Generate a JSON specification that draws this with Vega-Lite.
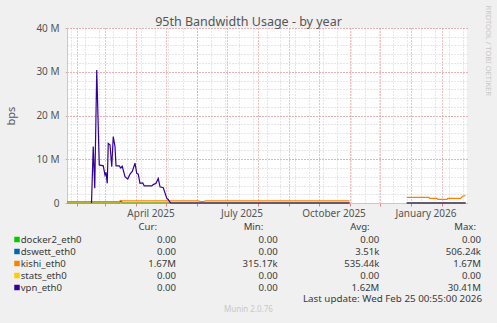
{
  "$schema": "https://vega.github.io/schema/vega-lite/v6.json",
  "width": 400,
  "height": 175,
  "autosize": {"type": "none"},
  "padding": {"left": 67, "top": 28, "right": 30, "bottom": 120},
  "background": "#f0f0f0",
  "config": {
    "font": "Noto Sans",
    "view": {"fill": "white", "stroke": null},
    "axis": {"labelFont": "Noto Sans", "titleFont": "Noto Sans", "labelColor": "#555555", "titleColor": "#555555", "labelFontSize": 10, "titleFontWeight": "normal"}
  },
  "title": {"text": "95th Bandwidth Usage - by year", "fontSize": 12.5, "fontWeight": "normal", "color": "#555555", "anchor": "middle", "dx": -18.5, "dy": 26, "offset": 3},
  "datasets": {
    "bw": [
      {"t": "2025-01-22T12:00:00", "series": "docker2_eth0", "v": 0},
      {"t": "2025-11-01T00:00:00", "series": "docker2_eth0", "v": 0},
      {"t": "2025-11-15T00:00:00", "series": "docker2_eth0", "v": null},
      {"t": "2025-12-28T06:00:00", "series": "docker2_eth0", "v": 0},
      {"t": "2026-02-25T00:00:00", "series": "docker2_eth0", "v": 0},

      {"t": "2025-01-22T12:00:00", "series": "dswett_eth0", "v": 0},
      {"t": "2025-03-16T00:00:00", "series": "dswett_eth0", "v": 0},
      {"t": "2025-03-17T12:00:00", "series": "dswett_eth0", "v": 506240},
      {"t": "2025-03-19T00:00:00", "series": "dswett_eth0", "v": 0},
      {"t": "2025-11-01T00:00:00", "series": "dswett_eth0", "v": 0},
      {"t": "2025-11-15T00:00:00", "series": "dswett_eth0", "v": null},
      {"t": "2025-12-28T06:00:00", "series": "dswett_eth0", "v": 0},
      {"t": "2026-02-25T00:00:00", "series": "dswett_eth0", "v": 0},

      {"t": "2025-01-22T12:00:00", "series": "kishi_eth0", "v": 320000},
      {"t": "2025-03-15T12:00:00", "series": "kishi_eth0", "v": 320000},
      {"t": "2025-03-17T00:00:00", "series": "kishi_eth0", "v": 600000},
      {"t": "2025-03-18T12:00:00", "series": "kishi_eth0", "v": 500000},
      {"t": "2025-06-03T00:00:00", "series": "kishi_eth0", "v": 500000},
      {"t": "2025-06-04T12:00:00", "series": "kishi_eth0", "v": 320000},
      {"t": "2025-06-08T12:00:00", "series": "kishi_eth0", "v": 320000},
      {"t": "2025-06-10T00:00:00", "series": "kishi_eth0", "v": 500000},
      {"t": "2025-11-01T00:00:00", "series": "kishi_eth0", "v": 500000},
      {"t": "2025-11-15T00:00:00", "series": "kishi_eth0", "v": null},
      {"t": "2025-12-28T06:00:00", "series": "kishi_eth0", "v": 1300000},
      {"t": "2026-01-19T12:00:00", "series": "kishi_eth0", "v": 1300000},
      {"t": "2026-01-20T06:00:00", "series": "kishi_eth0", "v": 1070000},
      {"t": "2026-01-27T12:00:00", "series": "kishi_eth0", "v": 1070000},
      {"t": "2026-01-28T06:00:00", "series": "kishi_eth0", "v": 850000},
      {"t": "2026-02-06T12:00:00", "series": "kishi_eth0", "v": 850000},
      {"t": "2026-02-07T06:00:00", "series": "kishi_eth0", "v": 1070000},
      {"t": "2026-02-20T06:00:00", "series": "kishi_eth0", "v": 1070000},
      {"t": "2026-02-21T12:00:00", "series": "kishi_eth0", "v": 1440000},
      {"t": "2026-02-22T12:00:00", "series": "kishi_eth0", "v": 1600000},
      {"t": "2026-02-25T00:00:00", "series": "kishi_eth0", "v": 1670000},

      {"t": "2025-01-22T12:00:00", "series": "stats_eth0", "v": 0},
      {"t": "2025-11-01T00:00:00", "series": "stats_eth0", "v": 0},
      {"t": "2025-11-15T00:00:00", "series": "stats_eth0", "v": null},
      {"t": "2025-12-28T06:00:00", "series": "stats_eth0", "v": 0},
      {"t": "2026-02-25T00:00:00", "series": "stats_eth0", "v": 0},

      {"t": "2025-02-16T00:00:00", "series": "vpn_eth0", "v": 0},
      {"t": "2025-02-17T18:00:00", "series": "vpn_eth0", "v": 12900000},
      {"t": "2025-02-19T06:00:00", "series": "vpn_eth0", "v": 3400000},
      {"t": "2025-02-21T06:00:00", "series": "vpn_eth0", "v": 30410000},
      {"t": "2025-02-23T18:00:00", "series": "vpn_eth0", "v": 8700000},
      {"t": "2025-02-27T18:00:00", "series": "vpn_eth0", "v": 8500000},
      {"t": "2025-03-01T12:00:00", "series": "vpn_eth0", "v": 6400000},
      {"t": "2025-03-02T12:00:00", "series": "vpn_eth0", "v": 7000000},
      {"t": "2025-03-03T18:00:00", "series": "vpn_eth0", "v": 4500000},
      {"t": "2025-03-04T18:00:00", "series": "vpn_eth0", "v": 13600000},
      {"t": "2025-03-06T12:00:00", "series": "vpn_eth0", "v": 13300000},
      {"t": "2025-03-08T06:00:00", "series": "vpn_eth0", "v": 8300000},
      {"t": "2025-03-09T18:00:00", "series": "vpn_eth0", "v": 15200000},
      {"t": "2025-03-11T12:00:00", "series": "vpn_eth0", "v": 12900000},
      {"t": "2025-03-12T12:00:00", "series": "vpn_eth0", "v": 8500000},
      {"t": "2025-03-15T18:00:00", "series": "vpn_eth0", "v": 8500000},
      {"t": "2025-03-17T06:00:00", "series": "vpn_eth0", "v": 8000000},
      {"t": "2025-03-18T18:00:00", "series": "vpn_eth0", "v": 8400000},
      {"t": "2025-03-21T12:00:00", "series": "vpn_eth0", "v": 6000000},
      {"t": "2025-03-24T06:00:00", "series": "vpn_eth0", "v": 5500000},
      {"t": "2025-03-26T12:00:00", "series": "vpn_eth0", "v": 6600000},
      {"t": "2025-03-28T18:00:00", "series": "vpn_eth0", "v": 7200000},
      {"t": "2025-03-31T12:00:00", "series": "vpn_eth0", "v": 9100000},
      {"t": "2025-04-02T06:00:00", "series": "vpn_eth0", "v": 6800000},
      {"t": "2025-04-03T18:00:00", "series": "vpn_eth0", "v": 6600000},
      {"t": "2025-04-05T12:00:00", "series": "vpn_eth0", "v": 4500000},
      {"t": "2025-04-08T06:00:00", "series": "vpn_eth0", "v": 4600000},
      {"t": "2025-04-09T18:00:00", "series": "vpn_eth0", "v": 3900000},
      {"t": "2025-04-17T06:00:00", "series": "vpn_eth0", "v": 3900000},
      {"t": "2025-04-18T18:00:00", "series": "vpn_eth0", "v": 4200000},
      {"t": "2025-04-21T12:00:00", "series": "vpn_eth0", "v": 4500000},
      {"t": "2025-04-23T18:00:00", "series": "vpn_eth0", "v": 5600000},
      {"t": "2025-04-25T12:00:00", "series": "vpn_eth0", "v": 3700000},
      {"t": "2025-04-28T18:00:00", "series": "vpn_eth0", "v": 3500000},
      {"t": "2025-05-02T06:00:00", "series": "vpn_eth0", "v": 1100000},
      {"t": "2025-05-03T18:00:00", "series": "vpn_eth0", "v": 800000},
      {"t": "2025-05-05T12:00:00", "series": "vpn_eth0", "v": 150000},
      {"t": "2025-05-06T12:00:00", "series": "vpn_eth0", "v": 0},
      {"t": "2025-11-01T00:00:00", "series": "vpn_eth0", "v": 0},
      {"t": "2025-11-15T00:00:00", "series": "vpn_eth0", "v": null},
      {"t": "2025-12-28T06:00:00", "series": "vpn_eth0", "v": 0},
      {"t": "2026-02-25T00:00:00", "series": "vpn_eth0", "v": 0}
    ],
    "names": [
      {"series": "docker2_eth0"},
      {"series": "dswett_eth0"},
      {"series": "kishi_eth0"},
      {"series": "stats_eth0"},
      {"series": "vpn_eth0"}
    ],
    "stats": [
      {"series": "docker2_eth0", "stat": "Cur", "label": "0.00"},
      {"series": "docker2_eth0", "stat": "Min", "label": "0.00"},
      {"series": "docker2_eth0", "stat": "Avg", "label": "0.00"},
      {"series": "docker2_eth0", "stat": "Max", "label": "0.00"},
      {"series": "dswett_eth0", "stat": "Cur", "label": "0.00"},
      {"series": "dswett_eth0", "stat": "Min", "label": "0.00"},
      {"series": "dswett_eth0", "stat": "Avg", "label": "3.51k"},
      {"series": "dswett_eth0", "stat": "Max", "label": "506.24k"},
      {"series": "kishi_eth0", "stat": "Cur", "label": "1.67M"},
      {"series": "kishi_eth0", "stat": "Min", "label": "315.17k"},
      {"series": "kishi_eth0", "stat": "Avg", "label": "535.44k"},
      {"series": "kishi_eth0", "stat": "Max", "label": "1.67M"},
      {"series": "stats_eth0", "stat": "Cur", "label": "0.00"},
      {"series": "stats_eth0", "stat": "Min", "label": "0.00"},
      {"series": "stats_eth0", "stat": "Avg", "label": "0.00"},
      {"series": "stats_eth0", "stat": "Max", "label": "0.00"},
      {"series": "vpn_eth0", "stat": "Cur", "label": "0.00"},
      {"series": "vpn_eth0", "stat": "Min", "label": "0.00"},
      {"series": "vpn_eth0", "stat": "Avg", "label": "1.62M"},
      {"series": "vpn_eth0", "stat": "Max", "label": "30.41M"}
    ],
    "headers": [
      {"stat": "Cur", "label": "Cur:"},
      {"stat": "Min", "label": "Min:"},
      {"stat": "Avg", "label": "Avg:"},
      {"stat": "Max", "label": "Max:"}
    ]
  },
  "layer": [
    {
      "data": {"name": "bw"},
      "mark": {"type": "line", "opacity": 0},
      "encoding": {
        "x": {
          "field": "t", "type": "temporal",
          "scale": {"domain": [{"year": 2025, "month": 1, "date": 22, "hours": 12}, {"year": 2026, "month": 2, "date": 26, "hours": 12}]},
          "axis": {"orient": "top", "tickCount": {"interval": "week", "step": 2}, "grid": true, "gridColor": "#cfcfcf", "gridDash": [1, 2], "labels": false, "ticks": false, "domain": false, "title": null}
        },
        "y": {
          "field": "v", "type": "quantitative",
          "scale": {"domain": [0, 40000000], "nice": false},
          "axis": {
            "orient": "right",
            "values": [0, 2000000, 4000000, 6000000, 8000000, 10000000, 12000000, 14000000, 16000000, 18000000, 20000000, 22000000, 24000000, 26000000, 28000000, 30000000, 32000000, 34000000, 36000000, 38000000, 40000000],
            "grid": true, "gridColor": "#cfcfcf", "gridDash": [1, 2], "labels": false, "ticks": false, "domain": false,
            "title": "RRDTOOL / TOBI OETIKER", "titleAngle": 90, "titleX": 20, "titleY": -23, "titleAlign": "left", "titleBaseline": "middle", "titleColor": "#c8c8c8", "titleFontSize": 7.5
          }
        }
      }
    },
    {
      "data": {"name": "bw"},
      "mark": {"type": "line", "strokeWidth": 1.2},
      "encoding": {
        "x": {
          "field": "t", "type": "temporal",
          "scale": {"domain": [{"year": 2025, "month": 1, "date": 22, "hours": 12}, {"year": 2026, "month": 2, "date": 26, "hours": 12}]},
          "axis": {
            "orient": "bottom", "tickCount": {"interval": "month", "step": 1},
            "labelExpr": "month(datum.value) % 3 == 0 ? timeFormat(datum.value, '%B %Y') : ''",
            "labelOffset": 15, "labelFlush": false, "labelOverlap": false, "labelPadding": 2,
            "grid": true, "gridColor": "#e48080", "gridDash": [1, 2],
            "ticks": true, "tickColor": "#e48080", "tickSize": 3,
            "domainColor": "#c4c4f0", "title": null
          }
        },
        "y": {
          "field": "v", "type": "quantitative",
          "scale": {"domain": [0, 40000000], "nice": false},
          "axis": {
            "values": [0, 10000000, 20000000, 30000000, 40000000],
            "labelExpr": "datum.value == 0 ? '0\u00a0\u00a0' : (datum.value / 1000000) + ' M'",
            "grid": true, "gridColor": "#e48080", "gridDash": [1, 2],
            "ticks": true, "tickColor": "#bbbbbb", "tickSize": 2, "labelPadding": 6,
            "domainColor": "#c4c4f0",
            "title": "bps", "titleFontSize": 11, "titleX": -56, "titleBaseline": "middle"
          }
        },
        "color": {
          "field": "series", "type": "nominal",
          "scale": {"domain": ["docker2_eth0", "dswett_eth0", "kishi_eth0", "stats_eth0", "vpn_eth0"], "range": ["#00cc00", "#0066b3", "#ff8000", "#ffcc00", "#330099"]},
          "legend": null
        }
      }
    },
    {
      "data": {"name": "names"},
      "mark": {"type": "square", "size": 30, "filled": true, "opacity": 1},
      "encoding": {
        "x": {"datum": "swatch", "type": "nominal", "scale": {"type": "point", "domain": ["swatch"], "range": [-50, -50]}, "axis": null},
        "y": {"field": "series", "type": "nominal", "scale": {"type": "point", "domain": ["docker2_eth0", "dswett_eth0", "kishi_eth0", "stats_eth0", "vpn_eth0"], "range": [211.5, 259.5], "padding": 0}, "axis": null},
        "color": {
          "field": "series", "type": "nominal",
          "scale": {"domain": ["docker2_eth0", "dswett_eth0", "kishi_eth0", "stats_eth0", "vpn_eth0"], "range": ["#00cc00", "#0066b3", "#ff8000", "#ffcc00", "#330099"]},
          "legend": null
        }
      }
    },
    {
      "data": {"name": "names"},
      "mark": {"type": "text", "align": "left", "baseline": "middle", "fontSize": 9.6, "color": "#3a3a3a"},
      "encoding": {
        "x": {"datum": "name", "type": "nominal", "scale": {"type": "point", "domain": ["name"], "range": [-46.3, -46.3]}, "axis": null},
        "y": {"field": "series", "type": "nominal", "scale": {"type": "point", "domain": ["docker2_eth0", "dswett_eth0", "kishi_eth0", "stats_eth0", "vpn_eth0"], "range": [211.5, 259.5], "padding": 0}, "axis": null},
        "text": {"field": "series"}
      }
    },
    {
      "data": {"name": "stats"},
      "mark": {"type": "text", "align": "right", "baseline": "middle", "fontSize": 9.6, "color": "#3a3a3a"},
      "encoding": {
        "x": {"field": "stat", "type": "nominal", "scale": {"type": "point", "domain": ["Cur", "Min", "Avg", "Max"], "range": [109, 414], "padding": 0}, "axis": null},
        "y": {"field": "series", "type": "nominal", "scale": {"type": "point", "domain": ["docker2_eth0", "dswett_eth0", "kishi_eth0", "stats_eth0", "vpn_eth0"], "range": [211.5, 259.5], "padding": 0}, "axis": null},
        "text": {"field": "label"}
      }
    },
    {
      "data": {"name": "headers"},
      "mark": {"type": "text", "align": "right", "baseline": "middle", "fontSize": 9.6, "color": "#3a3a3a"},
      "encoding": {
        "x": {"field": "stat", "type": "nominal", "scale": {"type": "point", "domain": ["Cur", "Min", "Avg", "Max"], "range": [90, 409], "padding": 0}, "axis": null},
        "y": {"datum": "header", "type": "nominal", "scale": {"type": "point", "domain": ["header"], "range": [198.7, 198.7]}, "axis": null},
        "text": {"field": "label"}
      }
    },
    {
      "data": {"values": [{"label": "Last update: Wed Feb 25 00:55:00 2026"}]},
      "mark": {"type": "text", "align": "right", "baseline": "middle", "fontSize": 9.8, "color": "#3a3a3a"},
      "encoding": {
        "x": {"datum": "last", "type": "nominal", "scale": {"type": "point", "domain": ["last"], "range": [415, 415]}, "axis": null},
        "y": {"datum": "last", "type": "nominal", "scale": {"type": "point", "domain": ["last"], "range": [271, 271]}, "axis": null},
        "text": {"field": "label"}
      }
    },
    {
      "data": {"values": [{"label": "Munin 2.0.76"}]},
      "mark": {"type": "text", "align": "center", "baseline": "middle", "fontSize": 8, "color": "#c8c8c8"},
      "encoding": {
        "x": {"datum": "munin", "type": "nominal", "scale": {"type": "point", "domain": ["munin"], "range": [181.5, 181.5]}, "axis": null},
        "y": {"datum": "munin", "type": "nominal", "scale": {"type": "point", "domain": ["munin"], "range": [282.3, 282.3]}, "axis": null},
        "text": {"field": "label"}
      }
    }
  ],
  "resolve": {"scale": {"x": "independent", "y": "independent", "color": "independent"}, "axis": {"x": "independent", "y": "independent"}}
}
